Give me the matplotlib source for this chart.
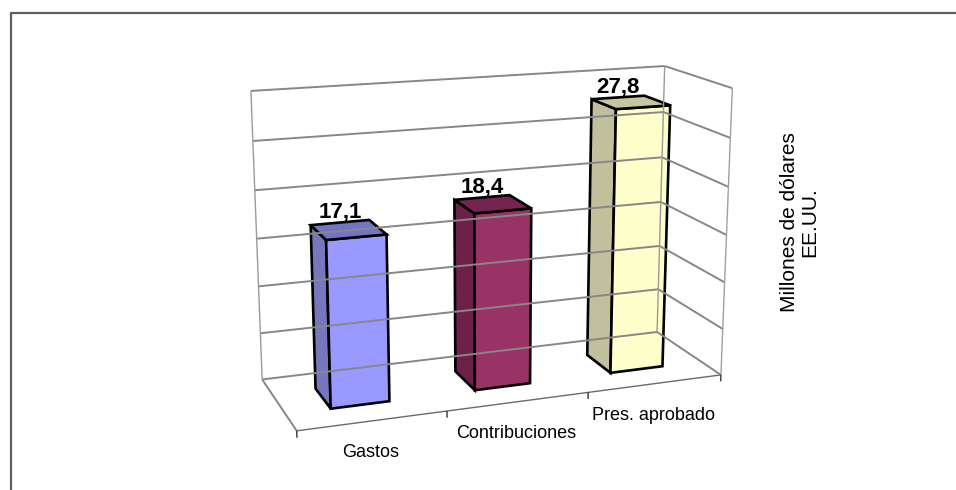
import numpy as np
import matplotlib
matplotlib.use("Agg")
import matplotlib.pyplot as plt
from matplotlib.patches import Polygon

plt.rcParams['font.family'] = ['Liberation Sans', 'DejaVu Sans']

# data
categories = ["Gastos", "Contribuciones", "Pres. aprobado"]
values = [17.1, 18.4, 27.8]
labels = ["17,1", "18,4", "27,8"]
y_max = 30
y_step = 5

front_colors = ["#9999FF", "#993366", "#FFFFCC"]
side_colors = ["#7777BD", "#6D2148", "#C0C09C"]
top_colors = ["#7474C4", "#74244F", "#C6C6A2"]

W, H = 956, 490

# perspective camera fitted to where the chart's box corners sit in the picture
# world: (category position, value, depth 0=front..1=back)
calib_world = [(0, 0, 0), (3, 0, 0), (0, 0, 1), (3, 0, 1),
               (0, 30, 1), (3, 30, 1), (3, 30, 0), (0, 15, 1)]
calib_pix = [(297, 432), (721, 374), (262, 378), (657, 333),
             (251, 91), (665, 66), (732, 88), (256.5, 239)]


def fit_camera(world, pix):
    rows = []
    for (X, Y, Z), (u, v) in zip(world, pix):
        Y = Y / 10.0
        u = (u - 480) / 300.0
        v = (v - 245) / 300.0
        rows.append([X, Y, Z, 1, 0, 0, 0, 0, -u * X, -u * Y, -u * Z, -u])
        rows.append([0, 0, 0, 0, X, Y, Z, 1, -v * X, -v * Y, -v * Z, -v])
    _, _, vt = np.linalg.svd(np.array(rows))
    return vt[-1].reshape(3, 4)


P = fit_camera(calib_world, calib_pix)


def proj(x, y, z):
    p = P @ np.array([x, y / 10.0, z, 1.0])
    return p[0] / p[2] * 300 + 480, p[1] / p[2] * 300 + 245


def line3d(ax, a, b, **kw):
    pa, pb = proj(*a), proj(*b)
    ax.plot([pa[0], pb[0]], [pa[1], pb[1]], solid_capstyle='butt', **kw)


fig = plt.figure(figsize=(W / 100, H / 100), dpi=100)
ax = fig.add_axes([0, 0, 1, 1])
ax.set_xlim(0, W)
ax.set_ylim(H, 0)
ax.axis('off')

# outer chart frame (top and left only visible)
ax.plot([11, 11, W], [H, 13, 13], color="#5f5f5f", lw=1.6)

ncat = len(categories)
grid_kw = dict(color="#878787", lw=1.4)

# gridlines on back wall and right side wall
for v in np.arange(0, y_max + 0.1, y_step):
    line3d(ax, (0, v, 1), (ncat, v, 1), **grid_kw)
    line3d(ax, (ncat, v, 1), (ncat, v, 0), **grid_kw)

# wall edges
line3d(ax, (0, 0, 1), (0, y_max, 1), color="#9a9a9a", lw=1.0)
line3d(ax, (ncat, 0, 1), (ncat, y_max, 1), color="#9a9a9a", lw=1.0)
line3d(ax, (ncat, 0, 0), (ncat, y_max, 0), color="#a0a0a0", lw=1.0)

# floor
line3d(ax, (0, 0, 0), (0, 0, 1), **grid_kw)
line3d(ax, (0, 0, 0), (ncat, 0, 0), color="#6a6a6a", lw=1.0)
for i in range(ncat + 1):
    line3d(ax, (i, 0, 0), (i, -0.7, 0), color="#333333", lw=1.0)

# bars
x_pad, z0, z1 = 0.3, 0.3, 0.7
for i, v in enumerate(values):
    x0, x1 = i + x_pad, i + 1 - x_pad
    side = [proj(x0, 0, z0), proj(x0, 0, z1), proj(x0, v, z1), proj(x0, v, z0)]
    front = [proj(x0, 0, z0), proj(x1, 0, z0), proj(x1, v, z0), proj(x0, v, z0)]
    top = [proj(x0, v, z0), proj(x1, v, z0), proj(x1, v, z1), proj(x0, v, z1)]
    for pts, col in [(side, side_colors[i]), (front, front_colors[i]), (top, top_colors[i])]:
        ax.add_patch(Polygon(pts, closed=True, facecolor=col, edgecolor="black",
                             lw=1.9, joinstyle='miter'))
    lx, ly = proj(i + 0.5, v, z1)
    ax.text(lx, ly - 5, labels[i], ha='center', va='baseline',
            fontsize=16, fontweight='bold')

# category labels
for i, cat in enumerate(categories):
    cx, cy = proj(i + 0.5, 0, 0)
    ax.text(cx - 2, cy + 32, cat, ha='center', va='center', fontsize=13)

# value axis title
ax.text(800, 222, "Millones de dólares\nEE.UU.", rotation=90, ha='center',
        va='center', multialignment='center', fontsize=15, linespacing=1.1)

fig.savefig("out.png", dpi=100)
